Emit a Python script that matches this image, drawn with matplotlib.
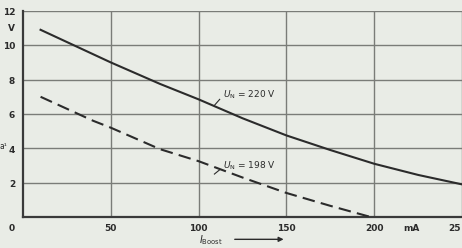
import matplotlib.pyplot as plt
from matplotlib.patches import FancyArrowPatch

# Kennlinien
i_220 = [10, 30, 50, 78, 100, 125, 150, 175, 200, 225, 250]
u_220 = [10.9, 9.95, 9.0, 7.75, 6.85, 5.75, 4.75, 3.9, 3.1, 2.45, 1.9]
i_198 = [10, 40, 50, 78, 100, 125, 150, 175, 198]
u_198 = [7.0, 5.6, 5.2, 3.95, 3.25, 2.3, 1.4, 0.65, 0.0]

x_ticks = [50, 100, 150, 200, 250]
y_ticks = [2, 4, 6, 8, 10, 12]

bg = "#e9ece6"
ink = "#2b2b2b"
grid_c = "#7a7c78"

fig = plt.figure(figsize=(4.62, 2.48), dpi=100, facecolor=bg)
ax = fig.add_axes([0.0498, 0.125, 0.9502, 0.831], facecolor=bg)
ax.set_xlim(0, 250)
ax.set_ylim(0, 12)

for x in x_ticks:
    ax.axvline(x, color=grid_c, lw=1.0, zorder=1)
for y in y_ticks:
    ax.axhline(y, color=grid_c, lw=1.0, zorder=1)

ax.plot(i_220, u_220, color=ink, lw=1.5, zorder=3)
ax.plot(i_198, u_198, color=ink, lw=1.5, ls=(0, (6, 3)), zorder=3)

for s in ["top", "right"]:
    ax.spines[s].set_visible(False)
for s in ["left", "bottom"]:
    ax.spines[s].set_color("#3a3a3a")
    ax.spines[s].set_linewidth(1.6)

ax.set_xticks([])
ax.set_yticks([])

fs = 6.5
for y in y_ticks:
    ax.text(-4.5, y - 0.1, str(y), ha="right", va="center", fontsize=fs,
            color=ink, fontweight="bold", clip_on=False)
ax.text(-4.5, 11.0, "V", ha="right", va="center", fontsize=fs,
        color=ink, fontweight="bold", clip_on=False)
ax.text(-4.5, -0.65, "0", ha="right", va="center", fontsize=fs,
        color=ink, fontweight="bold", clip_on=False)
for x in x_ticks[:-1]:
    ax.text(x, -0.65, str(x), ha="center", va="center", fontsize=fs,
            color=ink, fontweight="bold", clip_on=False)
ax.text(249.5, -0.65, "25", ha="right", va="center", fontsize=fs,
        color=ink, fontweight="bold", clip_on=False)
ax.text(221, -0.65, "mA", ha="center", va="center", fontsize=fs,
        color=ink, fontweight="bold", clip_on=False)

# Achsbeschriftung unten
ax.text(107, -1.35, "$I_{\\mathrm{Boost}}$", ha="center", va="center",
        fontsize=7, color=ink, clip_on=False)
arr = FancyArrowPatch((119, -1.3), (150, -1.3), arrowstyle="-|>",
                      mutation_scale=7, color=ink, lw=1.0, clip_on=False)
ax.add_patch(arr)

# abgeschnittene Ordinatenbeschriftung links
fig.text(0.0, 0.41, "a¹", fontsize=5.5, color=ink, ha="left", va="center")

# Kurvenbeschriftung
ax.text(114, 7.1, "$U_{\\mathrm{N}}$ = 220 V", fontsize=6.5, color=ink,
        ha="left", va="center")
ax.plot([112, 109], [6.85, 6.5], color=ink, lw=0.8)
ax.text(114, 3.0, "$U_{\\mathrm{N}}$ = 198 V", fontsize=6.5, color=ink,
        ha="left", va="center")
ax.plot([112, 109], [2.75, 2.5], color=ink, lw=0.8)

fig.savefig("out.png", dpi=100, facecolor=bg)
